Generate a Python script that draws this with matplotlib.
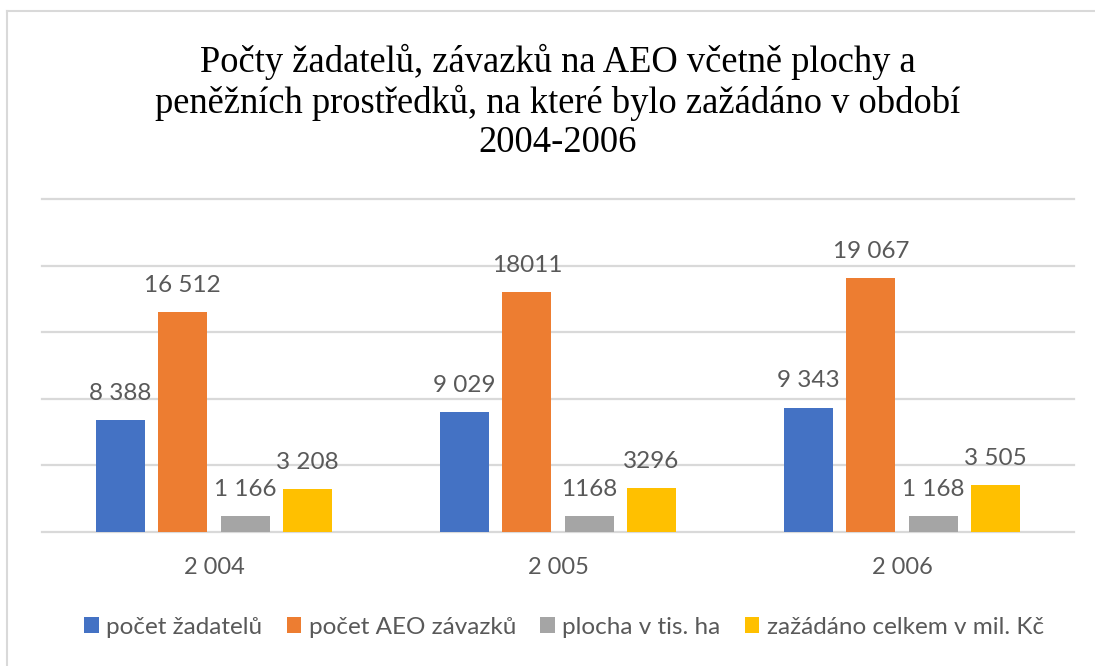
import numpy as np
import matplotlib
matplotlib.use("Agg")
import matplotlib.pyplot as plt
from matplotlib.lines import Line2D

# ---- data ----
years = ["2 004", "2 005", "2 006"]
series_names = ["počet žadatelů", "počet AEO závazků", "plocha v tis. ha", "zažádáno celkem v mil. Kč"]
zadatele = [8388, 9029, 9343]
zavazky = [16512, 18011, 19067]
plocha = [1166, 1168, 1168]
zazadano = [3208, 3296, 3505]
# labels as printed in the source (formatting is inconsistent there)
zadatele_lbl = ["8 388", "9 029", "9 343"]
zavazky_lbl = ["16 512", "18011", "19 067"]
plocha_lbl = ["1 166", "1168", "1 168"]
zazadano_lbl = ["3 208", "3296", "3 505"]

colors = ["#4472C4", "#ED7D31", "#A5A5A5", "#FFC000"]
txt_gray = "#595959"
grid_gray = "#D9D9D9"

title = ("Počty žadatelů, závazků na AEO včetně plochy a\n"
         "peněžních prostředků, na které bylo zažádáno v období\n"
         "2004-2006")

W, H = 1095, 666
fig = plt.figure(figsize=(W / 100, H / 100), dpi=100)
ax = fig.add_axes([42 / W, 1 - 532 / H, (1074 - 42) / W, (532 - 199) / H])

x = np.arange(len(years))
bw = 0.142
step = 0.181
values = [zadatele, zavazky, plocha, zazadano]
labels = [zadatele_lbl, zavazky_lbl, plocha_lbl, zazadano_lbl]

for i, (vals, lbls) in enumerate(zip(values, labels)):
    pos = x + (i - 1.5) * step
    bars = ax.bar(pos, vals, width=bw, color=colors[i], label=series_names[i], zorder=3)
    for b, t in zip(bars, lbls):
        ax.annotate(t, (b.get_x() + b.get_width() / 2, b.get_height()),
                    xytext=(0, 14.5), textcoords="offset points",
                    ha="center", va="baseline", fontsize=17.5,
                    family="Lato", color=txt_gray)

ax.set_xlim(-0.5, 2.5)
ax.set_ylim(0, 25000)
ax.set_yticks(np.arange(0, 25001, 5000))
ax.yaxis.grid(True, color=grid_gray, linewidth=1.6, zorder=0)
for ln in ax.get_ygridlines():
    ln.set_clip_on(False)
ax.tick_params(axis="y", left=False, labelleft=False)
ax.tick_params(axis="x", length=0, pad=18)
ax.set_xticks(x)
ax.set_xticklabels(years, fontsize=17, family="Lato", color=txt_gray)
for s in ax.spines.values():
    s.set_visible(False)

fig.text(558 / W, 1 - 44 / H, title, ha="center", va="top",
         fontsize=26.3, family="Liberation Serif", color="#000000", linespacing=1.17)

fig.legend(loc="center", bbox_to_anchor=(564 / W, 1 - 627 / H), ncol=4,
           frameon=False, prop={"family": "Lato", "size": 17.5},
           labelcolor=txt_gray, handlelength=0.6, handleheight=0.6,
           handletextpad=0.3, columnspacing=1.0)

# chart frame (left + top visible in the screenshot)
fig.add_artist(Line2D([7 / W, 7 / W], [0, 1 - 11 / H], transform=fig.transFigure,
                      color=grid_gray, linewidth=1.5))
fig.add_artist(Line2D([7 / W, 1], [1 - 11 / H, 1 - 11 / H], transform=fig.transFigure,
                      color=grid_gray, linewidth=1.5))

fig.savefig("out.png", dpi=100, facecolor="white")
